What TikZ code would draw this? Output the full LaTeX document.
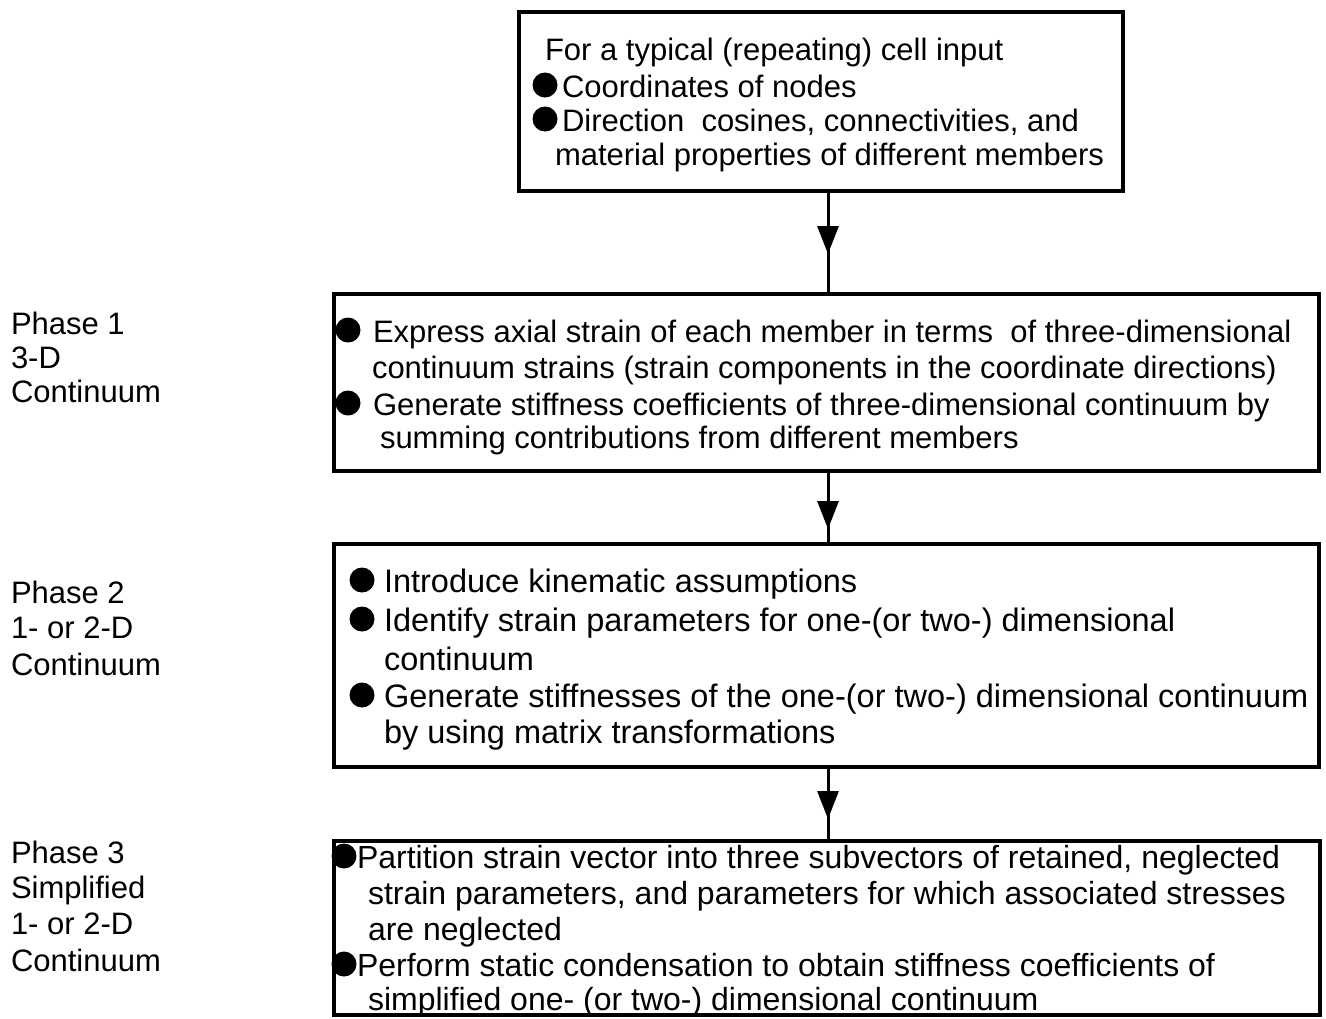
\documentclass[tikz,border=0pt]{standalone}
\usepackage{fontspec}
\setmainfont{Liberation Sans}
\usetikzlibrary{arrows.meta,decorations.markings}
\begin{document}
\begin{tikzpicture}[x=1pt,y=-1pt,
  box/.style={draw, line width=4.5pt, inner sep=0pt, outer sep=0pt, anchor=north west},
  txt/.style={anchor=base west, inner sep=0pt, outer sep=0pt},
  fo/.style={font=\fontsize{31}{36}\selectfont},
  fa/.style={font=\fontsize{31}{36}\selectfont},
  fb/.style={font=\fontsize{32.5}{37}\selectfont},
  fc/.style={font=\fontsize{32}{36}\selectfont},
  fl/.style={font=\fontsize{31}{35}\selectfont},
  dot/.style={circle, fill=black, draw=none, minimum size=25pt, inner sep=0pt},
  conn/.style={line width=3pt, postaction={decorate},
    decoration={markings, mark=at position #1 with {\arrow{Triangle[length=28pt,width=21pt]}}}}
]
\useasboundingbox (0,0) rectangle (1326,1018);
\fill[white] (0,0) rectangle (1326,1018);

% boxes
\node[box, minimum width=604pt, minimum height=179pt] (b1) at (519,12) {};
\node[box, minimum width=985pt, minimum height=177pt] (b2) at (334,294) {};
\node[box, minimum width=985pt, minimum height=223pt] (b3) at (334,544) {};
\node[box, minimum width=986pt, minimum height=174pt] (b4) at (334,841) {};

% connectors
\coordinate (ax) at (828,0);
\draw[conn=63pt] (b1.south -| ax) -- (b2.north -| ax);
\draw[conn=58pt] (b2.south -| ax) -- (b3.north -| ax);
\draw[conn=52pt] (b3.south -| ax) -- (b4.north -| ax);

% box 1 text
\node[txt,fo] (t1a) at (545,60) {For a typical (repeating) cell input};
\node[dot] (d1b) at (545,85) {};
\node[txt,fo] (t1b) at (562,97) {Coordinates of nodes};
\node[dot] (d1c) at (545,119) {};
\node[txt,fo] (t1c) at (562,131) {Direction\ \ cosines, connectivities, and};
\node[txt,fo] (t1d) at (555,165) {material properties of different members};

% box 2 text
\node[dot] (d2a) at (348,330) {};
\node[txt,fa] (t2a) at (373,342) {Express axial strain of each member in terms\ \ of three-dimensional};
\node[txt,fa] (t2b) at (372,378) {continuum strains (strain components in the coordinate directions)};
\node[dot] (d2c) at (348,403) {};
\node[txt,fa] (t2c) at (373,415) {Generate stiffness coefficients of three-dimensional continuum by};
\node[txt,fa] (t2d) at (380,448) {summing contributions from different members};

% box 3 text
\node[dot] (d3a) at (362,580) {};
\node[txt,fb] (t3a) at (384,592) {Introduce kinematic assumptions};
\node[dot] (d3b) at (362,619) {};
\node[txt,fb] (t3b) at (384,631) {Identify strain parameters for one-(or two-) dimensional};
\node[txt,fb] (t3c) at (384,670) {continuum};
\node[dot] (d3d) at (362,695) {};
\node[txt,fb] (t3d) at (384,707) {Generate stiffnesses of the one-(or two-) dimensional continuum};
\node[txt,fb] (t3e) at (384,743) {by using matrix transformations};

% box 4 text
\node[dot] (d4a) at (344,856) {};
\node[txt,fc] (t4a) at (357,868) {Partition strain vector into three subvectors of retained, neglected};
\node[txt,fc] (t4b) at (368,904) {strain parameters, and parameters for which associated stresses};
\node[txt,fc] (t4c) at (368,940) {are neglected};
\node[dot] (d4d) at (344,964) {};
\node[txt,fc] (t4d) at (357,976) {Perform static condensation to obtain stiffness coefficients of};
\node[txt,fc] (t4e) at (368,1010) {simplified one- (or two-) dimensional continuum};

% phase labels
\node[txt,fl] (p1a) at (11,334) {Phase 1};
\node[txt,fl] (p1b) at (11,368) {3-D};
\node[txt,fl] (p1c) at (11,402) {Continuum};
\node[txt,fl] (p2a) at (11,603) {Phase 2};
\node[txt,fl] (p2b) at (11,638) {1- or 2-D};
\node[txt,fl] (p2c) at (11,675) {Continuum};
\node[txt,fl] (p3a) at (11,863) {Phase 3};
\node[txt,fl] (p3b) at (11,898) {Simplified};
\node[txt,fl] (p3c) at (11,934) {1- or 2-D};
\node[txt,fl] (p3d) at (11,971) {Continuum};
\end{tikzpicture}
\end{document}
